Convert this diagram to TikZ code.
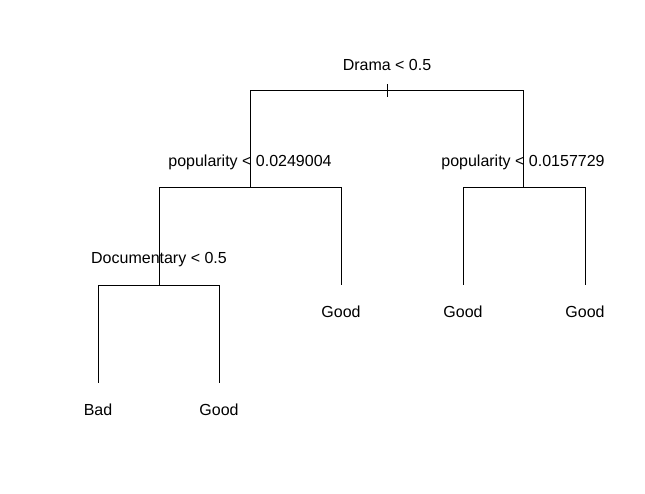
\documentclass[tikz,border=0pt]{standalone}
\usepackage{fontspec}
\setmainfont{Liberation Sans}
\begin{document}
\begin{tikzpicture}[x=1pt,y=-1pt,line width=1pt,
  lbl/.style={font=\fontsize{16}{18}\selectfont,inner sep=0pt,anchor=center}]
\useasboundingbox (0,0) rectangle (645,493);
% split coordinates
\coordinate (root) at (387,90);
\coordinate (rL) at (250,90);
\coordinate (rR) at (523,90);
\coordinate (L) at (250,187);
\coordinate (LL) at (159,187);
\coordinate (LR) at (341,187);
\coordinate (R) at (523,187);
\coordinate (RL) at (463,187);
\coordinate (RR) at (585,187);
\coordinate (D) at (159,285);
\coordinate (DL) at (98,285);
\coordinate (DR) at (219,285);
% leaves ends
\coordinate (lBad) at (98,383);
\coordinate (lDG) at (219,383);
\coordinate (lLG) at (341,285);
\coordinate (lRL) at (463,285);
\coordinate (lRR) at (585,285);
% labels
\node[lbl] (t1) at (387,65) {Drama < 0.5};
\node[lbl] (t2) at (250,162) {popularity < 0.0249004};
\node[lbl] (t3) at (523,162) {popularity < 0.0157729};
\node[lbl] (t4) at (159,260) {Documentary < 0.5};
\node[lbl] (g1) at (98,410) {Bad};
\node[lbl] (g2) at (219,410) {Good};
\node[lbl] (g3) at (341,312) {Good};
\node[lbl] (g4) at (463,312) {Good};
\node[lbl] (g5) at (585,312) {Good};
% tree
\draw (rL) -- (rR);
\draw (387,84) -- (387,97);
\draw (rL) -- (L);
\draw (rR) -- (R);
\draw (LL) -- (LR);
\draw (RL) -- (RR);
\draw (LL) -- (D);
\draw (LR) -- (lLG);
\draw (RL) -- (lRL);
\draw (RR) -- (lRR);
\draw (DL) -- (DR);
\draw (DL) -- (lBad);
\draw (DR) -- (lDG);
\end{tikzpicture}
\end{document}
